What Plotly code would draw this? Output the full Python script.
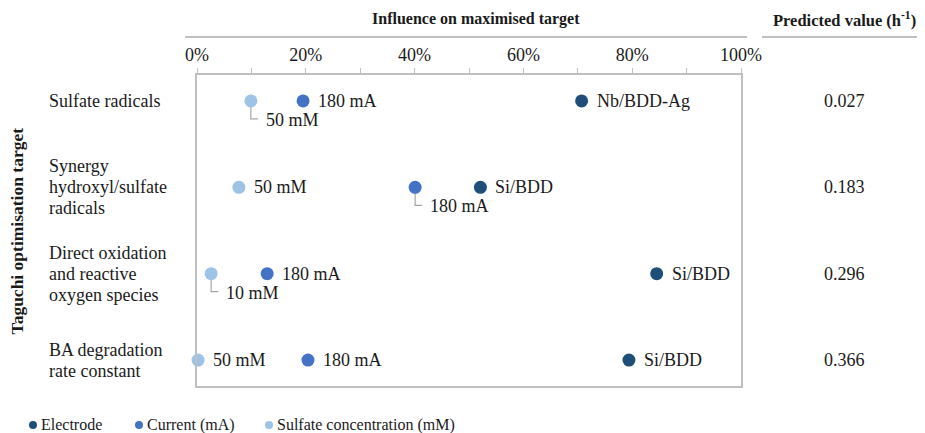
import plotly.graph_objects as go

# ---------------- data ----------------
categories = [
    "Sulfate radicals",
    "Synergy<br>hydroxyl/sulfate<br>radicals",
    "Direct oxidation<br>and reactive<br>oxygen species",
    "BA degradation<br>rate constant",
]
row_pos = [4, 3, 2, 1]
electrode = [70.7, 52.1, 84.5, 79.4]
current = [19.5, 40.1, 12.9, 20.4]
sulfate = [9.9, 7.7, 2.6, 0.2]
electrode_labels = ["Nb/BDD-Ag", "Si/BDD", "Si/BDD", "Si/BDD"]
current_labels = ["180 mA", "180 mA", "180 mA", "180 mA"]
sulfate_labels = ["50 mM", "50 mM", "10 mM", "50 mM"]
electrode_leader = [False, False, False, False]
current_leader = [False, True, False, False]
sulfate_leader = [True, False, True, False]
predicted = ["0.027", "0.183", "0.296", "0.366"]
tick_vals = [0, 20, 40, 60, 80, 100]
tick_text = ["0%", "20%", "40%", "60%", "80%", "100%"]
series_names = ["Electrode", "Current (mA)", "Sulfate concentration (mM)"]

FONT = "Liberation Serif, DejaVu Serif, serif"
C_DARK = "#1F4E79"
C_MID = "#4472C4"
C_LIGHT = "#9DC3E6"
TXT = "#1a1a1a"
GRID = "#BFBFBF"
colors = [C_DARK, C_MID, C_LIGHT]

series = list(zip(series_names,
                  [electrode, current, sulfate],
                  [electrode_labels, current_labels, sulfate_labels],
                  [electrode_leader, current_leader, sulfate_leader],
                  colors))

fig = go.Figure()
annotations = []
shapes = []
LBL = 18
LINE_H = 21

for name, vals, labels, leaders, col in series:
    fig.add_trace(go.Scatter(
        x=vals, y=row_pos, mode="markers", name=name,
        marker=dict(color=col, size=13, line=dict(width=0)),
        cliponaxis=False, showlegend=False,
    ))
    for v, r, lab, lead in zip(vals, row_pos, labels, leaders):
        if lead:
            shapes.append(dict(
                type="path", xref="x", yref="y",
                xsizemode="pixel", ysizemode="pixel",
                xanchor=v, yanchor=r,
                path="M0,0 L0,-18 L7,-18",
                line=dict(color="#A6A6A6", width=1.2), layer="below",
            ))
            annotations.append(dict(
                x=v, y=r, xref="x", yref="y", text=lab, showarrow=False,
                xanchor="left", yanchor="middle", xshift=13, yshift=-19,
                font=dict(family=FONT, size=LBL, color=TXT),
            ))
        else:
            annotations.append(dict(
                x=v, y=r, xref="x", yref="y", text=lab, showarrow=False,
                xanchor="left", yanchor="middle", xshift=13,
                font=dict(family=FONT, size=LBL, color=TXT),
            ))

# row labels (one annotation per line for tight line spacing)
for cat, r in zip(categories, row_pos):
    lines = cat.split("<br>")
    n = len(lines)
    for i, ln in enumerate(lines):
        annotations.append(dict(
            x=-0.2757, y=r, xref="paper", yref="y", text=ln, showarrow=False,
            xanchor="left", yanchor="middle", align="left",
            yshift=((n - 1) / 2 - i) * LINE_H,
            font=dict(family=FONT, size=LBL, color=TXT),
        ))

# predicted values
for p, r in zip(predicted, row_pos):
    annotations.append(dict(
        x=1.191, y=r, xref="paper", yref="y", text=p, showarrow=False,
        xanchor="center", yanchor="middle",
        font=dict(family=FONT, size=LBL, color=TXT),
    ))

# headers
annotations.append(dict(
    x=0.513, y=1.18, xref="paper", yref="paper",
    text="<b>Influence on maximised target</b>", showarrow=False,
    xanchor="center", yanchor="middle",
    font=dict(family=FONT, size=16, color=TXT),
))
annotations.append(dict(
    x=1.191, y=1.18, xref="paper", yref="paper",
    text="<b>Predicted value (h<sup>-1</sup>)</b>", showarrow=False,
    xanchor="center", yanchor="middle",
    font=dict(family=FONT, size=16.5, color=TXT),
))
annotations.append(dict(
    x=-0.331, y=0.5, xref="paper", yref="paper",
    text="<b>Taguchi optimisation target</b>", showarrow=False,
    textangle=-90, xanchor="center", yanchor="middle",
    font=dict(family=FONT, size=17.5, color=TXT),
))

# legend: circle symbol + text
leg_sym_x = [-0.3015, -0.1066, 0.1324]
LEG_Y = -0.125
for nm, col, lx in zip(series_names, colors, leg_sym_x):
    shapes.append(dict(
        type="circle", xref="paper", yref="paper",
        xsizemode="pixel", ysizemode="pixel",
        xanchor=lx, yanchor=LEG_Y,
        x0=-4, x1=4, y0=-4, y1=4,
        fillcolor=col, line=dict(width=0),
    ))
    annotations.append(dict(
        x=lx, y=LEG_Y, xref="paper", yref="paper", text=nm,
        showarrow=False, xanchor="left", yanchor="middle", xshift=6,
        font=dict(family=FONT, size=16, color=TXT),
    ))

# header rules
shapes.append(dict(type="line", xref="paper", yref="paper",
                   x0=-0.022, x1=1.011, y0=1.122, y1=1.122,
                   line=dict(color=GRID, width=2)))
shapes.append(dict(type="line", xref="paper", yref="paper",
                   x0=1.0386, x1=1.40, y0=1.122, y1=1.122,
                   line=dict(color=GRID, width=2)))

fig.update_layout(
    width=917, height=425,
    margin=dict(l=189, r=184, t=67, b=47, autoexpand=False),
    paper_bgcolor="white", plot_bgcolor="white",
    font=dict(family=FONT, size=16, color=TXT),
    showlegend=False,
    annotations=annotations,
    shapes=shapes,
    xaxis=dict(
        range=[0, 100], side="top", tickvals=tick_vals, ticktext=tick_text,
        showgrid=False, zeroline=False, showline=True, mirror=True,
        linecolor=GRID, linewidth=1.5, automargin=False,
        ticks="outside", ticklen=5, tickcolor=GRID, tickwidth=1,
        minor=dict(dtick=10, ticks="outside", ticklen=5, tickcolor=GRID),
        tickfont=dict(family=FONT, size=LBL, color=TXT),
        fixedrange=True,
    ),
    yaxis=dict(
        range=[0.7, 4.3], showticklabels=False, showgrid=False, zeroline=False,
        showline=True, mirror=True, linecolor=GRID, linewidth=1.5, ticks="",
        automargin=False, fixedrange=True,
    ),
)

fig.write_html("out.html")
